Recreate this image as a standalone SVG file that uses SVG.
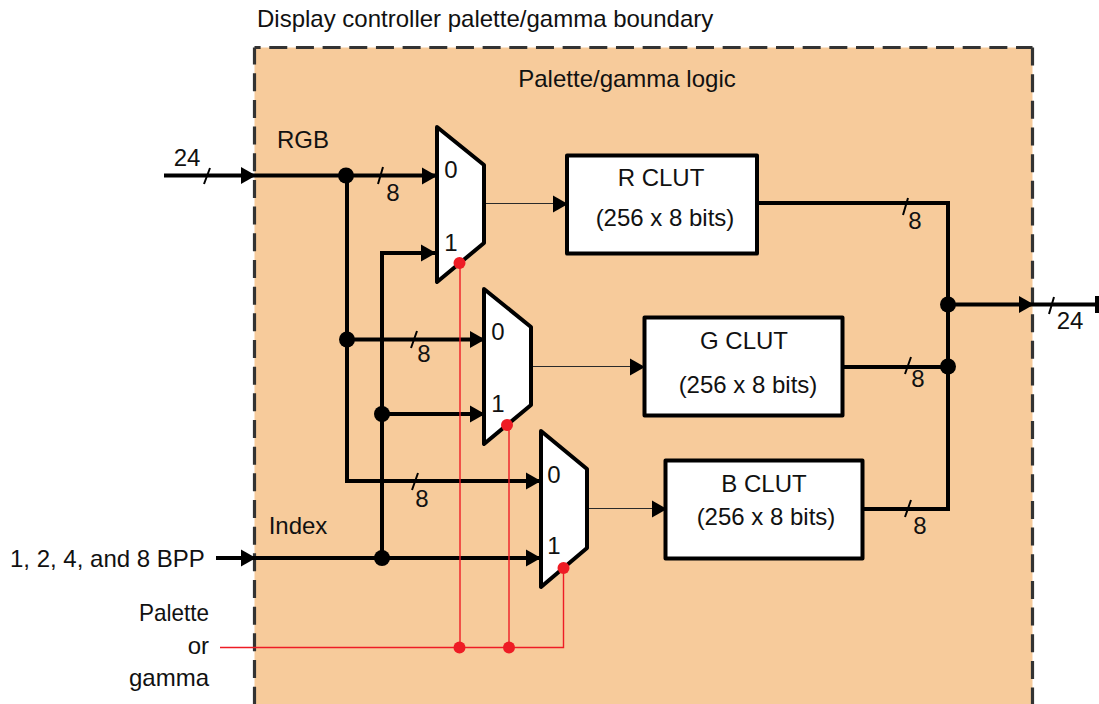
<svg xmlns="http://www.w3.org/2000/svg" width="1099" height="704" viewBox="0 0 1099 704">
<style>
text{font-family:"Liberation Sans",Arial,sans-serif;font-size:24px;fill:#111}
.m{text-anchor:middle}
.b{fill:#fff;stroke:#000;stroke-width:4;stroke-linejoin:round}
.w{fill:none;stroke:#000;stroke-width:4;stroke-linejoin:miter}
.t{fill:none;stroke:#2a2a2a;stroke-width:1.2}
.s{fill:none;stroke:#000;stroke-width:2}
.r{fill:none;stroke:#ee1c25;stroke-width:1.4}
.d{fill:#000}
.e{fill:#ee1c25}
.h{fill:none;stroke:#333;stroke-width:3.2;stroke-dasharray:18 8.670}
</style>
<defs><polygon id="a" points="-15,-8.500 0,0 -15,8.500" fill="#000"/></defs>
<g id="boundary">
<rect x="254.500" y="47.500" width="778" height="670" fill="#f7cb9b"/>
<path class="h" d="M254.500 47.500H1032.500" stroke-dashoffset="11.900"/>
<path class="h" d="M254.500 47.500V704" stroke-dashoffset="0.900"/>
<path class="h" d="M1032.500 47.500V704"/>
<text x="257" y="27">Display controller palette/gamma boundary</text>
<text x="627" y="87" class="m">Palette/gamma logic</text>
</g>
<g id="connectors">
<path class="w" d="M164 175.500H436"/><path class="w" d="M347 176V481H540"/><path class="w" d="M347 339.500H483"/>
<path class="w" d="M382 558V253H436"/><path class="w" d="M382 414H483"/><path class="w" d="M216 558H540"/>
<path class="r" d="M220 647.500H563.500V568"/><path class="r" d="M460 263V647.500"/><path class="r" d="M509 425V647.500"/>
<path class="t" d="M485 203.500H566"/><path class="t" d="M532 366.500H643"/><path class="t" d="M589 508.500H665"/>
<path class="w" d="M757 203H948V509H863"/><path class="w" d="M843 367H948"/><path class="w" d="M948 304.500H1096"/>
<path class="w" d="M1097 296V313"/>
<use href="#a" x="256" y="175.500"/><use href="#a" x="437" y="176"/><use href="#a" x="436" y="253"/>
<use href="#a" x="485" y="339.500"/><use href="#a" x="485" y="414"/><use href="#a" x="541" y="481"/><use href="#a" x="541" y="558"/>
<use href="#a" x="568" y="204"/><use href="#a" x="645" y="367"/><use href="#a" x="667" y="509"/>
<use href="#a" x="1034" y="304.500"/><use href="#a" x="256" y="558"/>
<path class="s" d="M210 168L204 184M383 167L378 184M417 331L411 348M418 473L412 490M908 198L903 215M911 357L905 374M911 500L905 517M1054 297L1049 314"/>
<circle class="d" cx="346" cy="175.500" r="8"/><circle class="d" cx="347" cy="339.500" r="8"/><circle class="d" cx="382" cy="414" r="8"/><circle class="d" cx="382" cy="558" r="8"/>
<circle class="d" cx="948" cy="304.500" r="8"/><circle class="d" cx="948" cy="366.500" r="8"/>
</g>
<g id="mux0"><polygon class="b" points="437,127 484,165 484,243 437,282"/><text x="451" y="178" class="m">0</text><text x="451" y="251" class="m">1</text></g>
<g id="mux1"><polygon class="b" points="484,289 531,327 531,405 484,444"/><text x="498" y="340" class="m">0</text><text x="498" y="412" class="m">1</text></g>
<g id="mux2"><polygon class="b" points="541,431 587,469 587,548 541,587"/><text x="554" y="483" class="m">0</text><text x="554" y="554" class="m">1</text></g>
<g id="rclut"><rect class="b" x="567" y="155.500" width="190" height="98"/><text x="661" y="186" class="m">R CLUT</text><text x="665" y="226" class="m">(256 x 8 bits)</text></g>
<g id="gclut"><rect class="b" x="644.500" y="317.500" width="198" height="98"/><text x="744" y="349" class="m">G CLUT</text><text x="748" y="393" class="m">(256 x 8 bits)</text></g>
<g id="bclut"><rect class="b" x="665.500" y="460.500" width="197" height="98"/><text x="764" y="492" class="m">B CLUT</text><text x="766" y="525" class="m">(256 x 8 bits)</text></g>
<g id="reddots"><circle class="e" cx="459.500" cy="263" r="6"/><circle class="e" cx="507" cy="425" r="6"/><circle class="e" cx="563.500" cy="568" r="6"/><circle class="e" cx="459.500" cy="647.500" r="6"/><circle class="e" cx="509" cy="647.500" r="6"/></g>
<g id="labels">
<text x="187" y="166" class="m">24</text><text x="303" y="148" class="m">RGB</text><text x="393" y="201" class="m">8</text><text x="424" y="362" class="m">8</text><text x="422" y="507" class="m">8</text>
<text x="915" y="229" class="m">8</text><text x="918" y="387" class="m">8</text><text x="920" y="534" class="m">8</text><text x="1070" y="329" class="m">24</text>
<text x="298" y="534" class="m">Index</text><text x="10" y="567">1, 2, 4, and 8 BPP</text>
<text x="139" y="621" textLength="70" lengthAdjust="spacingAndGlyphs">Palette</text><text x="209" y="654" text-anchor="end">or</text><text x="209" y="686" text-anchor="end">gamma</text>
</g>
</svg>
